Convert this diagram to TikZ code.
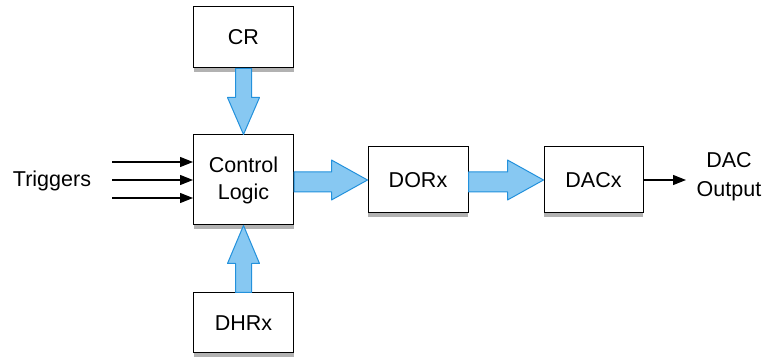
\documentclass[tikz,border=0pt]{standalone}
\usepackage{fontspec}
\setmainfont{Liberation Sans}
\usetikzlibrary{shadows,calc,arrows.meta}
\definecolor{afill}{RGB}{135,200,242}
\definecolor{aline}{RGB}{35,145,220}
\begin{document}
\begin{tikzpicture}[x=1pt,y=-1pt,
  box/.style={draw=black, line width=1pt, fill=white, inner sep=0pt, align=center,
    font=\fontsize{21.5}{27}\selectfont,
    drop shadow={shadow xshift=0pt, shadow yshift=-4pt, opacity=0.3, fill=black}},
  lbl/.style={inner sep=0pt, align=center, font=\fontsize{21.5}{29}\selectfont},
  barrow/.style={draw=aline, fill=afill, line width=1pt, line join=round},
  thin/.style={draw=black, line width=1.2pt, -{Triangle[length=13pt,width=10pt]}}]
\useasboundingbox (0,0) rectangle (764,358);
% boxes
\node[box, minimum width=100pt, minimum height=61pt] (cr) at (243.5,37.5) {CR};
\node[box, minimum width=100pt, minimum height=90pt] (cl) at (243.5,180) {Control\\Logic};
\node[box, minimum width=100pt, minimum height=60pt] (dhr) at (243.5,323) {DHRx};
\node[box, minimum width=100pt, minimum height=66pt] (dor) at (418,180) {DORx};
\node[box, minimum width=99pt, minimum height=66pt] (dac) at (593.5,180) {DACx};
% labels
\node[lbl] (trig) at (52,181) {Triggers};
\node[lbl] (out) at (729,177) {DAC\\Output};
\coordinate (oend) at (686,180);
\coordinate (t1) at (112,162);
\coordinate (t2) at (112,180);
\coordinate (t3) at (112,198);
% thin arrows
\draw[thin] (t1) -- (cl.west |- t1);
\draw[thin] (t2) -- (cl.west |- t2);
\draw[thin] (t3) -- (cl.west |- t3);
\draw[thin] (dac.east) -- (oend);
% block arrows
\draw[barrow] ($(cr.south)+(-8,0)$) -- ($(cl.north)+(-8,-37)$) -- ($(cl.north)+(-16,-37)$)
  -- (cl.north) -- ($(cl.north)+(16,-37)$) -- ($(cl.north)+(8,-37)$) -- ($(cr.south)+(8,0)$) -- cycle;
\draw[barrow] ($(dhr.north)+(-8,0)$) -- ($(cl.south)+(-8,38)$) -- ($(cl.south)+(-16,38)$)
  -- (cl.south) -- ($(cl.south)+(16,38)$) -- ($(cl.south)+(8,38)$) -- ($(dhr.north)+(8,0)$) -- cycle;
\draw[barrow] ($(cl.east)+(0,-8)$) -- ($(dor.west)+(-36,-8)$) -- ($(dor.west)+(-36,-20)$)
  -- (dor.west) -- ($(dor.west)+(-36,20)$) -- ($(dor.west)+(-36,12)$) -- ($(cl.east)+(0,12)$) -- cycle;
\draw[barrow] ($(dor.east)+(0,-8)$) -- ($(dac.west)+(-36,-8)$) -- ($(dac.west)+(-36,-20)$)
  -- (dac.west) -- ($(dac.west)+(-36,20)$) -- ($(dac.west)+(-36,12)$) -- ($(dor.east)+(0,12)$) -- cycle;
\end{tikzpicture}
\end{document}
